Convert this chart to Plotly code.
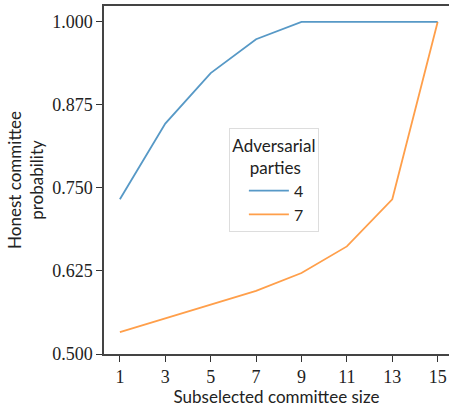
import plotly.graph_objects as go

sizes = [1, 3, 5, 7, 9, 11, 13, 15]
prob_4 = [0.733, 0.847, 0.923, 0.974, 1.0, 1.0, 1.0, 1.0]
prob_7 = [0.533, 0.554, 0.574, 0.595, 0.622, 0.662, 0.733, 1.0]
series_names = ["4", "7"]
y_ticks = [0.5, 0.625, 0.75, 0.875, 1.0]
y_tick_labels = ["0.500", "0.625", "0.750", "0.875", "1.000"]

fig = go.Figure()
fig.add_trace(go.Scatter(x=sizes, y=prob_4, mode="lines", name=series_names[0],
                         line=dict(color="#1f77b4", width=1.8), opacity=0.75))
fig.add_trace(go.Scatter(x=sizes, y=prob_7, mode="lines", name=series_names[1],
                         line=dict(color="#ff7f0e", width=1.8), opacity=0.75))

serif = "Liberation Serif, DejaVu Serif, serif"
sans = "Lato, DejaVu Sans, sans-serif"

fig.update_layout(
    width=449, height=407,
    margin=dict(l=104, r=0, t=6, b=53, autoexpand=False),
    plot_bgcolor="white", paper_bgcolor="white",
    showlegend=True,
    legend=dict(
        x=0.362, y=0.648, xanchor="left", yanchor="top",
        bgcolor="rgba(255,255,255,0.8)", bordercolor="#dddddd", borderwidth=1,
        font=dict(family=sans, size=16, color="#222"),
        title=dict(text="Adversarial<br>&nbsp;&nbsp;&nbsp;&nbsp;parties", side="top center",
                   font=dict(family=sans, size=17, color="#222")),
        itemwidth=40,
        indentation=14,
    ),
    xaxis=dict(
        range=[0.3, 15.5], tickvals=sizes, ticktext=[str(s) for s in sizes],
        ticks="outside", ticklen=6, tickcolor="#333", showgrid=False, zeroline=False,
        showline=True, linecolor="#444", linewidth=1.5, mirror=True,
        tickfont=dict(family=serif, size=18, color="#222"),
        title=dict(text="Subselected committee size", font=dict(family=sans, size=17, color="#222"),
                   standoff=2),
    ),
    yaxis=dict(
        range=[0.5, 1.024], tickvals=y_ticks, ticktext=y_tick_labels,
        ticks="outside", ticklen=6, tickcolor="#333", showgrid=False, zeroline=False,
        showline=True, linecolor="#444", linewidth=1.5, mirror=False,
        tickfont=dict(family=serif, size=18, color="#222"),
        title=dict(text="Honest committee<br>probability", font=dict(family=sans, size=17, color="#222"),
                   standoff=4),
    ),
)

fig.write_html("out.html", config={"displayModeBar": False},
               post_script="document.body.style.margin='0';")
